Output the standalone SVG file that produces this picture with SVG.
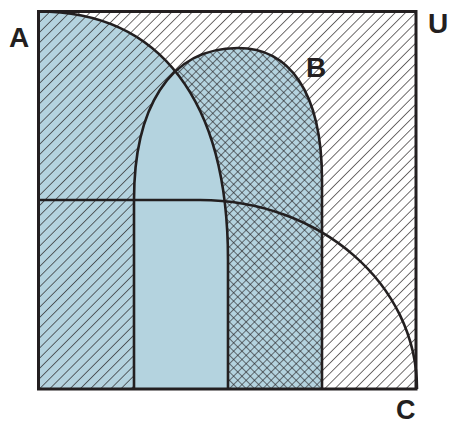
<svg xmlns="http://www.w3.org/2000/svg" width="450" height="425" viewBox="0 0 450 425">
  <style>
    .blue { fill: #b4d3df; }
    .edge { fill: none; stroke: #231f20; stroke-width: 2.6; stroke-linejoin: round; }
    .frame { fill: none; stroke: #231f20; stroke-width: 3; }
    .lbl { font-family: "Liberation Sans", Arial, sans-serif; font-weight: bold; font-size: 28px; fill: #231f20; }
  </style>
  <defs>
    <pattern id="hatch" patternUnits="userSpaceOnUse" width="7.2" height="20" patternTransform="rotate(45)">
      <line x1="0" y1="0" x2="0" y2="20" stroke="#231f20" stroke-width="1.3"/>
    </pattern>
    <pattern id="cross" patternUnits="userSpaceOnUse" width="5.9" height="5.9" patternTransform="rotate(45)">
      <line x1="0" y1="0" x2="0" y2="5.9" stroke="#231f20" stroke-width="1.2"/>
      <line x1="0" y1="0" x2="5.9" y2="0" stroke="#231f20" stroke-width="1.2"/>
    </pattern>
    <clipPath id="notB">
      <path clip-rule="evenodd" d="M0,0H450V425H0Z M134,389 V200 C134,110 168,48 238,48 C288,48 322,90 322,180 V389 Z"/>
    </clipPath>
    <clipPath id="notA">
      <path clip-rule="evenodd" d="M0,0H450V425H0Z M38.5,11.5 C160,11.5 228,100 228,260 V389 H38.5 Z"/>
    </clipPath>
  </defs>

  <g id="U">
    <rect x="38.5" y="11.5" width="377.5" height="377.5" fill="#ffffff"/>
  </g>
  <g id="A">
    <path class="blue" d="M38.5,11.5 C160,11.5 228,100 228,260 V389 H38.5 Z"/>
  </g>
  <g id="B">
    <path class="blue" d="M134,389 V200 C134,110 168,48 238,48 C288,48 322,90 322,180 V389 Z"/>
  </g>
  <g id="shading">
    <rect x="38.5" y="11.5" width="377.5" height="377.5" fill="url(#hatch)" clip-path="url(#notB)"/>
    <path d="M134,389 V200 C134,110 168,48 238,48 C288,48 322,90 322,180 V389 Z" fill="url(#cross)" clip-path="url(#notA)"/>
  </g>
  <g id="connectors">
    <path id="A-edge" class="edge" d="M38.5,11.5 C160,11.5 228,100 228,260 V389"/>
    <path id="B-edge" class="edge" d="M134,389 V200 C134,110 168,48 238,48 C288,48 322,90 322,180 V389"/>
    <path id="C-edge" class="edge" d="M38.5,200 H200 C320,200 417,284 417,389"/>
    <rect class="frame" x="38.5" y="11.5" width="377.5" height="377.5"/>
  </g>
  <g id="labels">
    <text class="lbl" x="9" y="47">A</text>
    <text class="lbl" x="428" y="33">U</text>
    <text class="lbl" x="306" y="77">B</text>
    <text class="lbl" x="396" y="419" style="font-size:27px">C</text>
  </g>
</svg>
